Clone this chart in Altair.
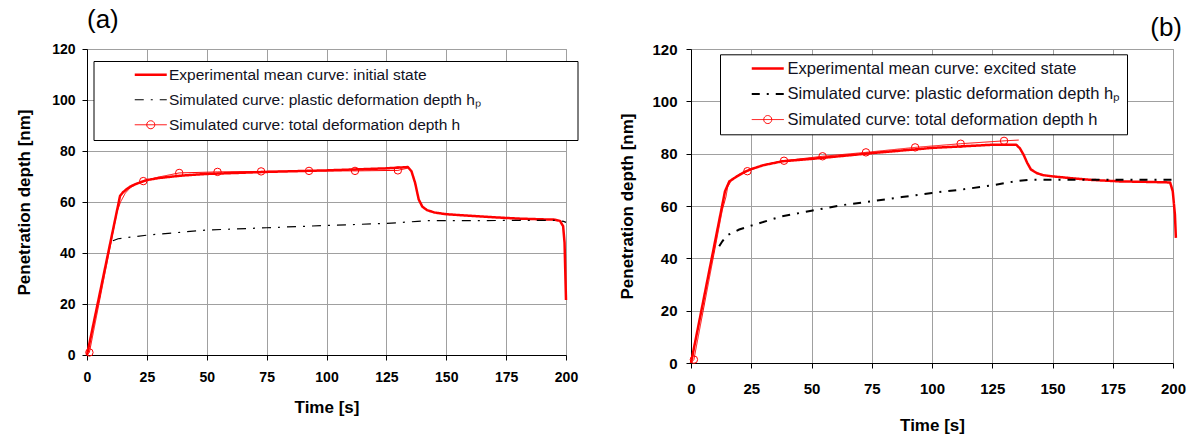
import altair as alt
import pandas as pd

FONT = "Liberation Sans"
RED = "#ff0000"
GRID = "#a0a0a0"
TEXT = "#111122"

PLASTIC = "Simulated curve: plastic deformation depth hₚ"
TOTAL = "Simulated curve: total deformation depth h"
NAMES_A = ["Experimental mean curve: initial state", PLASTIC, TOTAL]
NAMES_B = ["Experimental mean curve: excited state", PLASTIC, TOTAL]

X_TICKS = [0, 25, 50, 75, 100, 125, 150, 175, 200]
Y_TICKS = [0, 20, 40, 60, 80, 100, 120]

# (a) initial state
A_EXP_T = [0, 13.8, 15, 16.5, 18, 20, 22.5, 25, 30, 40, 50, 75, 100, 125, 134,
           135.5, 137, 138.5, 140, 142, 145, 150, 160, 170, 180, 190, 195,
           197.5, 198.8, 199.4, 200]
A_EXP_V = [0, 62.4, 63.8, 65, 66, 66.9, 67.8, 68.6, 69.4, 70.4, 71, 71.8, 72.4,
           73.2, 73.7, 72, 67.5, 61, 58.2, 56.8, 55.9, 55.2, 54.6, 54, 53.5,
           53.2, 53.1, 52.6, 50.5, 44, 21.6]
A_PL_T = [10.8, 13, 25, 50, 75, 100, 125, 138, 142, 160, 180, 195, 199, 200]
A_PL_V = [44.8, 45.6, 47, 49, 49.9, 50.8, 51.6, 52.4, 52.7, 52.7, 52.8, 52.8,
          52.4, 52]
A_SIM_T = [0, 1, 12.5, 14, 16, 18, 20, 23.5, 30, 38.5, 54.5, 72.7, 92.7, 111.9,
           129.8, 134]
A_SIM_V = [0, 1, 56, 60, 63.5, 65.5, 66.8, 68.2, 69.8, 71.4, 71.8, 72, 72.2,
           72.2, 72.4, 73.3]
A_MK_T = [1, 23.5, 38.5, 54.5, 72.7, 92.7, 111.9, 129.8]
A_MK_V = [1, 68.2, 71.4, 71.8, 72, 72.2, 72.2, 72.4]

# (b) excited state
B_EXP_T = [0, 14.1, 15.9, 19, 22, 25, 30, 38, 50, 62.5, 75, 87.5, 100, 112.5,
           125, 135, 136.5, 138, 139.5, 141, 143.4, 146, 150.3, 158, 165.6, 178,
           190, 198.8, 199.9, 200.8, 201.2]
B_EXP_V = [0, 65.6, 69.4, 71.3, 72.9, 74.1, 75.6, 77.1, 78, 79.1, 80.2, 81.2,
           82.2, 82.8, 83.4, 83.4, 82, 79.6, 76.5, 74, 72.6, 71.8, 71.3, 70.6, 70,
           69.4, 69.2, 69, 65.6, 56.7, 47.8]
B_PL_T = [11.7, 13, 15, 20, 25, 37.5, 50, 62.5, 75, 87.5, 100, 112.5, 125, 135,
          140, 150, 175, 200]
B_PL_V = [44.6, 46.5, 48.8, 51, 52.5, 56, 58.2, 60.3, 61.8, 63.4, 65, 66.3,
          67.9, 69.5, 70, 70, 70, 70]
B_SIM_T = [0, 1.2, 13, 14.5, 15.2, 17, 20, 23.4, 30, 38.6, 54.6, 72.6, 93,
           111.9, 129.9, 136]
B_SIM_V = [0, 1.3, 58.5, 63.5, 67.2, 70.2, 72.1, 73.3, 75.6, 77.3, 79, 80.5,
           82.4, 83.8, 84.9, 85.2]
B_MK_T = [1.2, 23.4, 38.6, 54.6, 72.6, 93, 111.9, 129.9]
B_MK_V = [1.3, 73.3, 77.3, 79, 80.5, 82.4, 83.8, 84.9]

# legend glyphs: plain stroke, and stroke with an open circle in the middle
LINE_PATH = "M-2,0H2"
MARK_PATH = "M-2,0H2M0.5,0A0.5,0.5,0,1,1,-0.5,0A0.5,0.5,0,1,1,0.5,0"


def panel(exp, pl, sim, mk, names, *, width, height, tag, tag_anchor,
          tag_offset, tag_dx, pl_width, dash, tick_font, label_pad, y_label_pad,
          x_title_pad, y_title_pad, legend_x, legend_y, row_pad, sym_offset,
          label_offset, legend_font, box_reach):
    exp_name, pl_name, sim_name = names
    lines = pd.concat([
        pd.DataFrame({"t": exp[0], "v": exp[1], "series": exp_name}),
        pd.DataFrame({"t": pl[0], "v": pl[1], "series": pl_name}),
        pd.DataFrame({"t": sim[0], "v": sim[1], "series": sim_name}),
    ], ignore_index=True)
    marks = pd.DataFrame({"t": mk[0], "v": mk[1]})

    x_axis = alt.Axis(values=X_TICKS, format="d", grid=True, gridColor=GRID,
                      gridWidth=1, domainColor="black", tickColor="black",
                      tickSize=5, labelFont=FONT, labelFontSize=tick_font,
                      labelFontWeight="bold", labelColor="black",
                      labelPadding=label_pad, labelFlush=False,
                      labelOverlap=False, titleFont=FONT, titleFontSize=17,
                      titleFontWeight="bold", titleColor="black",
                      titlePadding=x_title_pad)
    y_axis = alt.Axis(values=Y_TICKS, format="d", grid=True, gridColor=GRID,
                      gridWidth=1, domainColor="black", tickColor="black",
                      tickSize=5, labelFont=FONT, labelFontSize=tick_font,
                      labelFontWeight="bold", labelColor="black",
                      labelPadding=y_label_pad, labelFlush=False,
                      labelOverlap=False, titleFont=FONT, titleFontSize=17,
                      titleFontWeight="bold", titleColor="black",
                      titlePadding=y_title_pad)
    x = alt.X("t:Q", title="Time [s]", axis=x_axis,
              scale=alt.Scale(domain=[0, 200], nice=False))
    y = alt.Y("v:Q", title="Penetration depth [nm]", axis=y_axis,
              scale=alt.Scale(domain=[0, 120], nice=False))

    # the plastic-depth glyph carries a trailing move-to that sets the box width
    pl_path = LINE_PATH + (f"M{box_reach},0" if box_reach else "")
    legend = alt.Legend(
        title=None, orient="none", legendX=legend_x, legendY=legend_y,
        strokeColor="black", fillColor="white", padding=6, cornerRadius=0,
        labelFont=FONT, labelFontSize=legend_font, labelColor=TEXT,
        labelLimit=1000, labelOffset=label_offset, rowPadding=row_pad,
        symbolSize=256, symbolOffset=sym_offset, symbolFillColor="transparent",
        symbolType={"expr": f"datum.value === '{TOTAL}' ? '{MARK_PATH}' : "
                            f"(datum.value === '{PLASTIC}' ? '{pl_path}' : '{LINE_PATH}')"},
        symbolStrokeWidth={"expr": f"datum.value === '{TOTAL}' ? 1 : "
                                   f"(datum.value === '{PLASTIC}' ? {pl_width} : 2.5)"},
    )
    color = alt.Color("series:N", legend=legend,
                      scale=alt.Scale(domain=names, range=[RED, "black", RED]))
    stroke_dash = alt.StrokeDash("series:N", legend=legend,
                                 scale=alt.Scale(domain=names,
                                                 range=[[1, 0], dash, [1, 0]]))

    base = alt.Chart(lines).encode(x=x, y=y, color=color, strokeDash=stroke_dash)
    exp_line = base.transform_filter(alt.datum.series == exp_name).mark_line(
        strokeJoin="round").encode(strokeWidth=alt.value(2.5))
    pl_line = base.transform_filter(alt.datum.series == pl_name).mark_line().encode(
        strokeWidth=alt.value(pl_width))
    sim_line = base.transform_filter(alt.datum.series == sim_name).mark_line().encode(
        strokeWidth=alt.value(1))
    points = alt.Chart(marks).mark_point(
        shape="circle", filled=False, size=55, color=RED, strokeWidth=1,
        opacity=1).encode(x=x, y=y)

    return alt.layer(exp_line, pl_line, sim_line, points).properties(
        width=width, height=height,
        title=alt.TitleParams(tag, anchor=tag_anchor, frame="group",
                              fontSize=26, font=FONT, fontWeight="normal",
                              color="black", offset=tag_offset, dx=tag_dx),
    )


left = panel((A_EXP_T, A_EXP_V), (A_PL_T, A_PL_V), (A_SIM_T, A_SIM_V),
             (A_MK_T, A_MK_V), NAMES_A, width=479, height=306, tag="(a)",
             tag_anchor="start", tag_offset=9, tag_dx=0, pl_width=1.2,
             dash=[9, 7, 2, 7], tick_font=14, label_pad=10, y_label_pad=7,
             x_title_pad=15, y_title_pad=18.5, legend_x=6.5, legend_y=12,
             row_pad=8, sym_offset=43.5, label_offset=10.5, legend_font=15.5,
             box_reach=52.2)
right = panel((B_EXP_T, B_EXP_V), (B_PL_T, B_PL_V), (B_SIM_T, B_SIM_V),
              (B_MK_T, B_MK_V), NAMES_B, width=482, height=314, tag="(b)",
              tag_anchor="end", tag_offset=1, tag_dx=9, pl_width=2,
              dash=[8, 7, 2, 7], tick_font=15, label_pad=13, y_label_pad=9,
              x_title_pad=21, y_title_pad=15, legend_x=29, legend_y=5.3,
              row_pad=8.5, sym_offset=33.5, label_offset=11.5, legend_font=16.5,
              box_reach=0)

chart = alt.hconcat(left, right, spacing=125, bounds="flush").resolve_scale(
    color="independent", strokeDash="independent"
).resolve_legend(
    color="independent", strokeDash="independent"
).properties(
    padding={"left": 14, "top": 6, "right": 5, "bottom": 5},
    background="white",
).configure_view(stroke=GRID, strokeWidth=1)

chart.save("out.html", embed_options={"renderer": "svg", "actions": False})
